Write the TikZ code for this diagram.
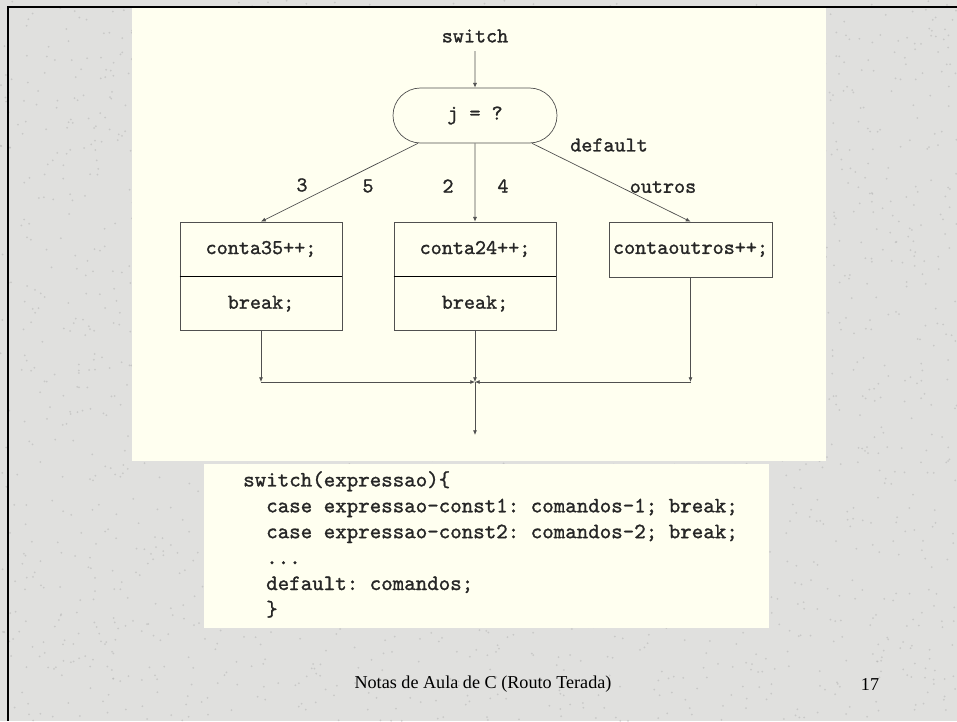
\documentclass[tikz,border=0pt]{standalone}
\usepackage{fontspec}
\setmainfont{Liberation Serif}
\setmonofont{lmmono10-regular.otf}[FakeBold=1.2]
\usepackage{tikz}
\usetikzlibrary{arrows.meta,positioning,shapes.misc}
\definecolor{fundo}{RGB}{224,224,222}
\definecolor{creme}{RGB}{255,255,240}
\definecolor{traco}{RGB}{80,80,80}
\tikzstyle{arrow}=[draw=traco, line width=0.6pt, >={Latex[length=1.4mm,width=1.2mm]}]
\tikzstyle{rotulo}=[inner sep=0pt, text=black!85, font=\ttfamily\fontsize{18}{20}\selectfont]
\tikzstyle{caixa}=[rotulo, draw=traco, line width=0.6pt, minimum width=48.6mm, minimum height=16.2mm]

\begin{document}
\begin{tikzpicture}[x=0.3mm, y=-0.3mm]
		\useasboundingbox (0,0) rectangle (957,721);
		\fill[fundo] (0,0) rectangle (957,721);
		\pgfmathsetseed{17}
		\foreach \i in {1,...,2500}
			\fill[black!30, opacity=0.5] (957*rnd, 721*rnd) circle (0.3mm);
		\fill[creme] (132,8) rectangle (826,461);
		\fill[creme] (204,464) rectangle (769,628);
		\draw[line width=2.5pt] (957,7) -- (8,7) -- (8,721);

		% fluxograma
		\node[rotulo] (sw) at (475,36) {switch};
		\node[rotulo, draw=traco, line width=0.6pt, rounded rectangle, minimum width=49.2mm, minimum height=16.5mm] (j) at (475,115.5) {j = ?};
		\node[caixa] (c35) at (261,249) {conta35++;};
		\node[caixa, below=0pt of c35] (b35) {break;};
		\node[caixa] (c24) at (475,249) {conta24++;};
		\node[caixa, below=0pt of c24] (b24) {break;};
		\node[caixa, minimum width=48.9mm, minimum height=16.5mm] (cout) at (690.5,249.5) {contaoutros++;};
		\draw[line width=0.9pt] (c35.south west) -- (c35.south east);
		\draw[line width=0.9pt] (c24.south west) -- (c24.south east);

		\node[rotulo] (default) at (609,145) {default};
		\node[rotulo] (n3) at (302,185) {3};
		\node[rotulo] (n5) at (368,186) {5};
		\node[rotulo] (n2) at (448,186) {2};
		\node[rotulo] (n4) at (503,186) {4};
		\node[rotulo] (outros) at (663,187) {outros};

		\coordinate (jl) at (261,382);
		\coordinate (jm) at (475,382);
		\coordinate (jr) at (690.5,382);
		\coordinate (fim) at (475,435);

		\draw[arrow, ->, shorten <=2.5mm] (sw) -- (j);
		\draw[arrow, ->] (j.206.8) -- (c35.north);
		\draw[arrow, ->] (j) -- (c24);
		\draw[arrow, ->] (j.-26.8) -- (cout.north);
		\draw[arrow, ->] (b35) -- (jl);
		\draw[arrow, ->] (b24) -- (jm);
		\draw[arrow, ->] (cout) -- (jr);
		\draw[arrow, ->] (jl) -- (jm);
		\draw[arrow, ->] (jr) -- (jm);
		\draw[arrow, ->] (jm) -- (fim);

		% codigo
		\node[anchor=north west, inner sep=0pt, align=left, text=black!85, font=\ttfamily\fontsize{18.7}{22.1}\selectfont] (codigo) at (243,471) {switch(expressao)\{\\
			\ \ case expressao-const1: comandos-1; break;\\
			\ \ case expressao-const2: comandos-2; break;\\
			\ \ ...\\
			\ \ default: comandos;\\
			\ \ \}};

		\node[font=\fontsize{15.5}{18}\selectfont] (rodape) at (483,684) {Notas de Aula de C (Routo Terada)};
		\node[font=\fontsize{15.5}{18}\selectfont] (pagina) at (870,684) {17};
\end{tikzpicture}
\end{document}
